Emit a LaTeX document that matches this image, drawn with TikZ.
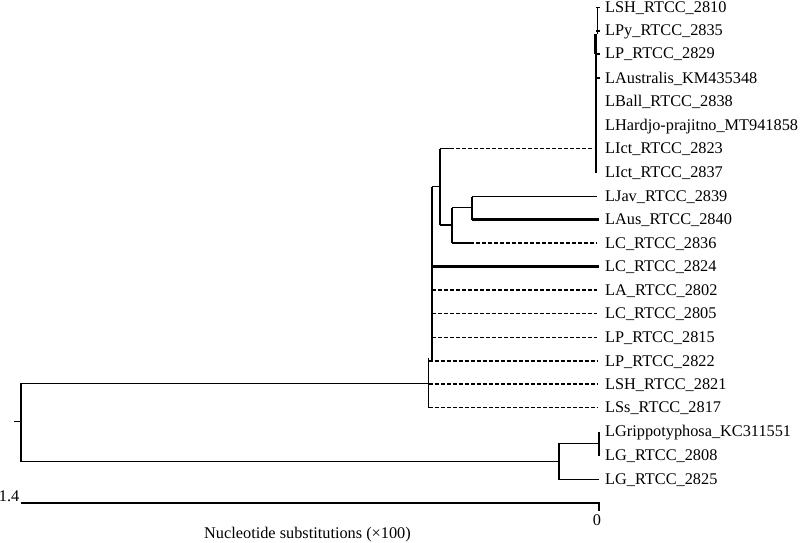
\documentclass[tikz,border=0pt]{standalone}
\usepackage{fontspec}
\setmainfont{Liberation Serif}
\begin{document}
\begin{tikzpicture}[x=1pt,y=-1pt,
  br/.style={line width=1.35pt},
  thk/.style={line width=2.2pt},
  dsh/.style={line width=1.35pt,dash pattern=on 4pt off 2pt},
  lbl/.style={anchor=base west,inner sep=0pt,font=\fontsize{16.3}{19}\selectfont},
  axl/.style={inner sep=0pt,font=\fontsize{16.3}{19}\selectfont}]
\useasboundingbox (0,0) rectangle (800,543);
% leaf ends
\foreach \i/\y in {0/7.5,1/31,2/54,3/78,4/101,5/125,6/148.5,7/172,8/196.5,9/219.5,10/243,11/266.5,12/290,13/313.5,14/337.5,15/361,16/384,17/407.5,18/431,19/455,20/479.5}
  \coordinate (l\i) at (597,\y);
% labels
\foreach \i/\y/\t in {0/7.5/LSH\_RTCC\_2810,1/31/LPy\_RTCC\_2835,2/54/LP\_RTCC\_2829,3/78/LAustralis\_KM435348,4/101/LBall\_RTCC\_2838,5/125/LHardjo-prajitno\_MT941858,6/148.5/LIct\_RTCC\_2823,7/172/LIct\_RTCC\_2837,8/196.5/LJav\_RTCC\_2839,9/219.5/LAus\_RTCC\_2840,10/243/LC\_RTCC\_2836,11/266.5/LC\_RTCC\_2824,12/290/LA\_RTCC\_2802,13/313.5/LC\_RTCC\_2805,14/337.5/LP\_RTCC\_2815,15/361/LP\_RTCC\_2822,16/384/LSH\_RTCC\_2821,17/407.5/LSs\_RTCC\_2817,18/431/LGrippotyphosa\_KC311551,19/455/LG\_RTCC\_2808,20/479.5/LG\_RTCC\_2825}
  \node[lbl] (t\i) at (605,\y+5) {\t};
% internal nodes
\coordinate (Rs) at (14,421.7);
\coordinate (R) at (21,421.7);
\coordinate (A) at (428.5,383.3);
\coordinate (B) at (432,361);
\coordinate (C) at (440,186.7);
\coordinate (D) at (452,225);
\coordinate (E) at (472,207.7);
\coordinate (T) at (596,148.5);
\coordinate (G) at (559,461.7);
\coordinate (H) at (599,443.3);
% root
\draw[br] (Rs) -- (R);
\draw[br] (R |- A) -- (R |- G);
\draw[br] (R |- A) -- (A);
\draw[br] (R |- G) -- (G);
% node A
\draw[br] (428.5,358) -- (428.5,407.5);
\draw[br] (A |- B) -- (B);
\foreach \i in {15,16,17} \draw[dsh] (A |- l\i) -- (l\i);
% node B
\draw[br] (B |- C) -- (B);
\draw[thk] (432,225) -- (B);
\draw[br] (B |- C) -- (C);
\draw[thk] (B |- l11) -- ([xshift=2pt]l11);
\foreach \i in {12,13,14} \draw[dsh] (B |- l\i) -- (l\i);
% node C
\draw[br] (C |- T) -- (C |- D);
\draw[br] (C |- T) -- ++(10,0);
\draw[dsh] ([xshift=10pt]C |- T) -- ([xshift=-2pt]T);
\draw[thk] (C |- D) -- (D);
% node D
\draw[thk] (D |- E) -- (D |- l10);
\draw[br] (D |- E) -- (E);
\draw[br] (D |- l10) -- ++(18,0);
\draw[dsh] ([xshift=18pt]D |- l10) -- (l10);
% node E
\draw[br] (E |- l8) -- (E |- l9);
\draw[br] (E |- l8) -- (l8);
\draw[thk] (E |- l9) -- ([xshift=2pt]l9);
% top clade
\draw[br] (597.5,7.5) -- (597.5,34);
\draw[br] (596,34) -- (596,173);
\draw[thk] (595.5,34) -- (595.5,54);
\foreach \i in {0,1,2,3} \draw[br] (596,0 |- l\i) -- ([xshift=3pt]l\i);
% node G
\draw[br] (G |- H) -- (G |- l20);
\draw[br] (G |- H) -- (H);
\draw[br] (G |- l20) -- ([xshift=2pt]l20);
\draw[thk] (599,432) -- (599,456);
% scale bar
\coordinate (s0) at (21,503);
\coordinate (s1) at (599,503);
\draw[br] (s0) -- (s1) -- ++(0,7.5);
\node[axl,anchor=base east] (n14) at (19.5,501) {1.4};
\node[axl,anchor=base] (n0) at (597,525.5) {0};
\node[axl,anchor=base west] (ax) at (204,538) {Nucleotide substitutions (×100)};
\end{tikzpicture}
\end{document}
